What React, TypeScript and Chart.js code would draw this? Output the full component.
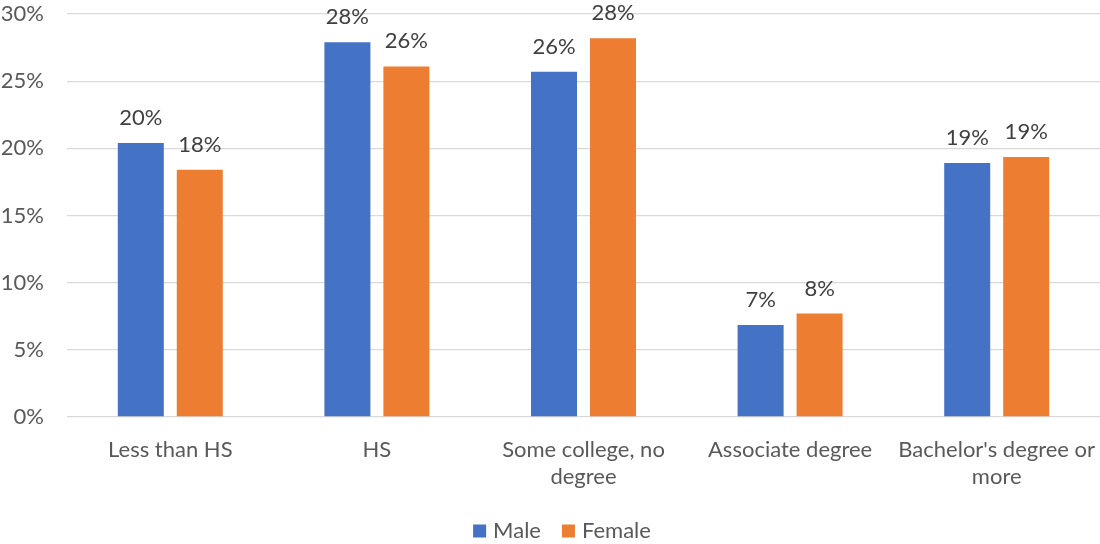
import React, { useEffect, useRef } from "react";
import { Chart, registerables } from "chart.js";

Chart.register(...registerables);

// Share of each education level, by sex (percent)
const categories: (string | string[])[] = [
  "Less than HS",
  "HS",
  ["Some college, no", "degree"],
  "Associate degree",
  ["Bachelor's degree or", "more"],
];
const maleValues = [20.4, 27.9, 25.7, 6.85, 18.9];
const femaleValues = [18.4, 26.1, 28.2, 7.7, 19.35];
const yTicks = [0, 5, 10, 15, 20, 25, 30];

const BLUE = "#4472C4";
const ORANGE = "#ED7D31";
const FONT = "Lato, 'Noto Sans', sans-serif";

// Prints the rounded percentage above every bar
const barValueLabels = {
  id: "barValueLabels",
  afterDatasetsDraw(chart: any) {
    const ctx = chart.ctx;
    ctx.save();
    ctx.font = `22px ${FONT}`;
    ctx.fillStyle = "#404040";
    ctx.textAlign = "center";
    ctx.textBaseline = "alphabetic";
    chart.data.datasets.forEach((ds: any, di: number) => {
      const meta = chart.getDatasetMeta(di);
      meta.data.forEach((bar: any, i: number) => {
        const v = ds.data[i] as number;
        ctx.fillText(`${Math.round(v)}%`, bar.x, bar.y - 18);
      });
    });
    ctx.restore();
  },
};

// Legend row under the axis: square swatch + series name
const bottomLegend = {
  id: "bottomLegend",
  afterDraw(chart: any) {
    const ctx = chart.ctx;
    const box = 13;
    const gap = 7;
    const itemGap = 21;
    const centerX = 562;
    const centerY = 531;
    ctx.save();
    ctx.font = `22px ${FONT}`;
    ctx.textBaseline = "middle";
    ctx.textAlign = "left";
    const items = chart.data.datasets.map((ds: any) => ({
      text: ds.label as string,
      color: ds.backgroundColor as string,
      w: ctx.measureText(ds.label).width,
    }));
    const total =
      items.reduce((s: number, it: any) => s + box + gap + it.w, 0) + itemGap * (items.length - 1);
    let x = centerX - total / 2;
    items.forEach((it: any) => {
      ctx.fillStyle = it.color;
      ctx.fillRect(x, centerY - box / 2, box, box);
      ctx.fillStyle = "#595959";
      ctx.fillText(it.text, x + box + gap, centerY);
      x += box + gap + it.w + itemGap;
    });
    ctx.restore();
  },
};

export default function App() {
  const canvasRef = useRef<HTMLCanvasElement | null>(null);

  useEffect(() => {
    if (!canvasRef.current) return;
    const chart = new Chart(canvasRef.current, {
      type: "bar",
      data: {
        labels: categories,
        datasets: [
          {
            label: "Male",
            data: maleValues,
            backgroundColor: BLUE,
            categoryPercentage: 0.571,
            barPercentage: 0.78,
          },
          {
            label: "Female",
            data: femaleValues,
            backgroundColor: ORANGE,
            categoryPercentage: 0.571,
            barPercentage: 0.78,
          },
        ],
      },
      options: {
        animation: false,
        responsive: true,
        maintainAspectRatio: false,
        layout: { padding: { top: 14, right: 0, bottom: 44, left: 0 } },
        plugins: {
          tooltip: { enabled: false },
          legend: { display: false },
        },
        scales: {
          x: {
            grid: { display: false },
            border: { display: false },
            ticks: {
              color: "#595959",
              font: { family: FONT, size: 22, lineHeight: 1.24 },
              padding: 11,
              maxRotation: 0,
              autoSkip: false,
            },
            afterFit(scale: any) {
              scale.height = 83;
              scale.paddingLeft = 0;
              scale.paddingRight = 0;
            },
          },
          y: {
            min: 0,
            max: 30,
            afterBuildTicks(scale: any) {
              scale.ticks = yTicks.map((v) => ({ value: v }));
            },
            grid: { color: "#D9D9D9", lineWidth: 1.3, drawTicks: false },
            border: { display: false },
            ticks: {
              color: "#595959",
              font: { family: FONT, size: 22 },
              padding: 23,
              callback: (v: any) => `${v}%`,
            },
            afterFit(scale: any) {
              scale.width = 67;
              scale.paddingTop = 0;
              scale.paddingBottom = 0;
            },
          },
        },
      },
      plugins: [barValueLabels, bottomLegend],
    });
    return () => chart.destroy();
  }, []);

  return (
    <div style={{ position: "absolute", left: 0, top: 0, width: 1100, height: 544, background: "#fff" }}>
      <canvas ref={canvasRef} />
    </div>
  );
}
